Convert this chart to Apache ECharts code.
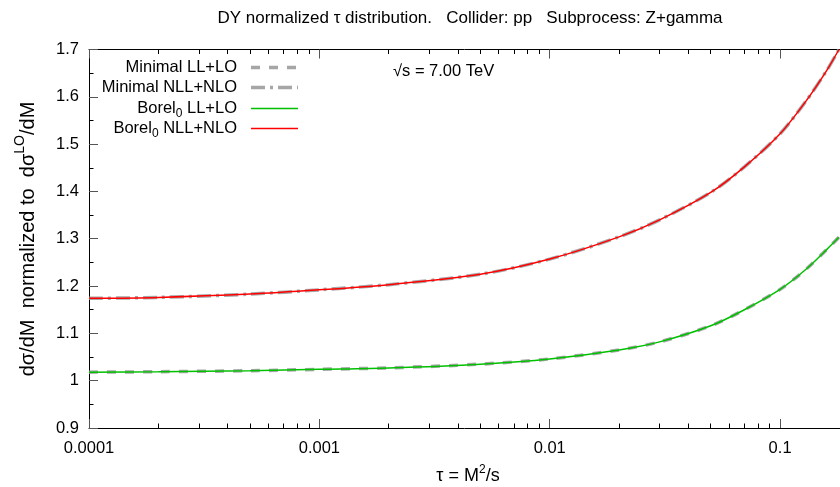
<!DOCTYPE html>
<html>
<head>
<meta charset="utf-8">
<script src="https://cdn.jsdelivr.net/npm/echarts@6/dist/echarts.min.js"></script>
<style>
  html, body { margin: 0; padding: 0; background: #fff; }
  #chart { width: 840px; height: 487px; }
</style>
</head>
<body>
<div id="chart"></div>
<script>
// tau = M^2/s sample points
const tau = [0.0001, 0.0002, 0.0005, 0.001, 0.002, 0.005, 0.01, 0.02, 0.03, 0.05, 0.07, 0.1, 0.13, 0.16, 0.18];

// normalized distributions
const minimalLL  = [1.018, 1.019, 1.021, 1.024, 1.027, 1.035, 1.046, 1.065, 1.082, 1.116, 1.150, 1.193, 1.236, 1.278, 1.303];
const minimalNLL = [1.174, 1.176, 1.183, 1.192, 1.203, 1.225, 1.257, 1.304, 1.340, 1.398, 1.452, 1.522, 1.592, 1.657, 1.700];
const borelLL    = [1.018, 1.019, 1.021, 1.024, 1.027, 1.035, 1.046, 1.065, 1.082, 1.116, 1.150, 1.193, 1.236, 1.278, 1.303];
const borelNLL   = [1.174, 1.176, 1.183, 1.192, 1.203, 1.225, 1.257, 1.304, 1.340, 1.398, 1.452, 1.522, 1.592, 1.657, 1.700];

// axis ticks
const xMajorTicks = [0.0001, 0.001, 0.01, 0.1];
const xTickLabels = ['0.0001', '0.001', '0.01', '0.1'];
const xMinorTicks = [];
[0.0001, 0.001, 0.01, 0.1].forEach(d => { for (let k = 2; k <= 9; k++) xMinorTicks.push(+(d * k).toPrecision(3)); });

const FONT = 'Liberation Sans';
const xMin = 0.0001, xMax = 0.182;

const pair = (xs, ys) => xs.map((x, i) => [x, ys[i]]);

const grayColor = 'rgba(150,150,150,0.85)';
const grayDash = [9, 9];
const grayDashDot = [14, 5, 3, 5];

function xAxisDef(pos, major, labels) {
  return {
    type: 'log', logBase: 10, min: xMin, max: xMax, position: pos,
    axisLine: { show: major, lineStyle: { color: '#000', width: 1 } },
    axisTick: { show: true, inside: true, length: major ? 9 : 4.5,
      customValues: major ? xMajorTicks : xMinorTicks,
      lineStyle: { color: major ? '#555' : '#000', width: 1 } },
    axisLabel: labels ? {
      show: true, customValues: xMajorTicks, margin: 12,
      fontFamily: FONT, fontSize: 16.5, color: '#000',
      formatter: v => xTickLabels[xMajorTicks.findIndex(t => Math.abs(Math.log10(t) - Math.log10(v)) < 1e-6)] || ''
    } : { show: false },
    splitLine: { show: false },
    minorTick: { show: false }
  };
}

const chart = echarts.init(document.getElementById('chart'), null, { renderer: 'canvas' });

const legendFont = '16.5px "' + FONT + '"';

const option = {
  backgroundColor: '#fff',
  animation: false,
  grid: { left: 89, right: 0, top: 49.5, bottom: 59, containLabel: false },
  xAxis: [
    xAxisDef('bottom', true, true),
    xAxisDef('bottom', false, false),
    xAxisDef('top', true, false),
    xAxisDef('top', false, false)
  ],
  yAxis: [{
    type: 'value', min: 0.9, max: 1.7, interval: 0.1, position: 'left',
    axisLine: { show: true, lineStyle: { color: '#000', width: 1 } },
    axisTick: { show: true, inside: true, length: 9, lineStyle: { color: '#555' } },
    minorTick: { show: true, splitNumber: 2, length: 4.5, lineStyle: { color: '#000' } },
    axisLabel: { margin: 10, fontFamily: FONT, fontSize: 16.5, color: '#000' },
    splitLine: { show: false }
  }],
  series: [
    { name: 'Minimal LL+LO', type: 'line', data: pair(tau, minimalLL), smooth: 0.3, symbol: 'none',
      lineStyle: { color: grayColor, width: 3.5, type: grayDash } },
    { name: 'Minimal NLL+NLO', type: 'line', data: pair(tau, minimalNLL), smooth: 0.3, symbol: 'none',
      lineStyle: { color: grayColor, width: 3.5, type: grayDashDot } },
    { name: 'Borel0 LL+LO', type: 'line', data: pair(tau, borelLL), smooth: 0.3, symbol: 'none',
      lineStyle: { color: '#00c000', width: 1.5 } },
    { name: 'Borel0 NLL+NLO', type: 'line', data: pair(tau, borelNLL), smooth: 0.3, symbol: 'none',
      lineStyle: { color: '#ff0000', width: 1.5 } }
  ],
  graphic: [
    // title
    { type: 'text', x: 470, y: 18, style: {
        text: 'DY normalized \u03c4 distribution.   Collider: pp   Subprocess: Z+gamma',
        font: '17px "' + FONT + '"', fill: '#000', textAlign: 'center', textVerticalAlign: 'middle' } },
    // energy annotation
    { type: 'text', x: 393, y: 71, style: {
        text: '\u221as = 7.00 TeV', font: legendFont, fill: '#000',
        textVerticalAlign: 'middle' } },
    // x axis title
    { type: 'text', x: 468, y: 476, style: {
        text: '\u03c4 = M{sup|2}/s', font: '18px "' + FONT + '"', fill: '#000',
        textAlign: 'center', textVerticalAlign: 'middle',
        rich: { sup: { fontSize: 12, fontFamily: FONT, padding: [0, 0, 13, 0] } } } },
    // y axis title
    { type: 'text', x: 28, y: 239, rotation: Math.PI / 2, style: {
        text: 'd\u03c3/dM  normalized to  d\u03c3{sup|LO}/dM', font: '20px "' + FONT + '"', fill: '#000',
        textAlign: 'center', textVerticalAlign: 'middle',
        rich: { sup: { fontSize: 14, fontFamily: FONT, padding: [0, 0, 16, 0] } } } },
    // legend
    { type: 'text', x: 237, y: 67, style: { text: 'Minimal LL+LO', font: legendFont, fill: '#000', textAlign: 'right', textVerticalAlign: 'middle' } },
    { type: 'text', x: 237, y: 87, style: { text: 'Minimal NLL+NLO', font: legendFont, fill: '#000', textAlign: 'right', textVerticalAlign: 'middle' } },
    { type: 'text', x: 237, y: 108, style: { text: 'Borel{sub|0} LL+LO', font: legendFont, fill: '#000', textAlign: 'right', textVerticalAlign: 'middle',
        rich: { sub: { fontSize: 12, fontFamily: FONT, padding: [12, 0, 0, 0] } } } },
    { type: 'text', x: 237, y: 128, style: { text: 'Borel{sub|0} NLL+NLO', font: legendFont, fill: '#000', textAlign: 'right', textVerticalAlign: 'middle',
        rich: { sub: { fontSize: 12, fontFamily: FONT, padding: [12, 0, 0, 0] } } } },
    { type: 'line', shape: { x1: 251, y1: 67.5, x2: 298, y2: 67.5 }, style: { stroke: grayColor, lineWidth: 3.5, lineDash: grayDash } },
    { type: 'line', shape: { x1: 251, y1: 87.5, x2: 298, y2: 87.5 }, style: { stroke: grayColor, lineWidth: 3.5, lineDash: grayDashDot } },
    { type: 'line', shape: { x1: 251, y1: 108.5, x2: 298, y2: 108.5 }, style: { stroke: '#00c000', lineWidth: 1.5 } },
    { type: 'line', shape: { x1: 251, y1: 128.5, x2: 298, y2: 128.5 }, style: { stroke: '#ff0000', lineWidth: 1.5 } }
  ]
};

chart.setOption(option);
</script>
</body>
</html>
